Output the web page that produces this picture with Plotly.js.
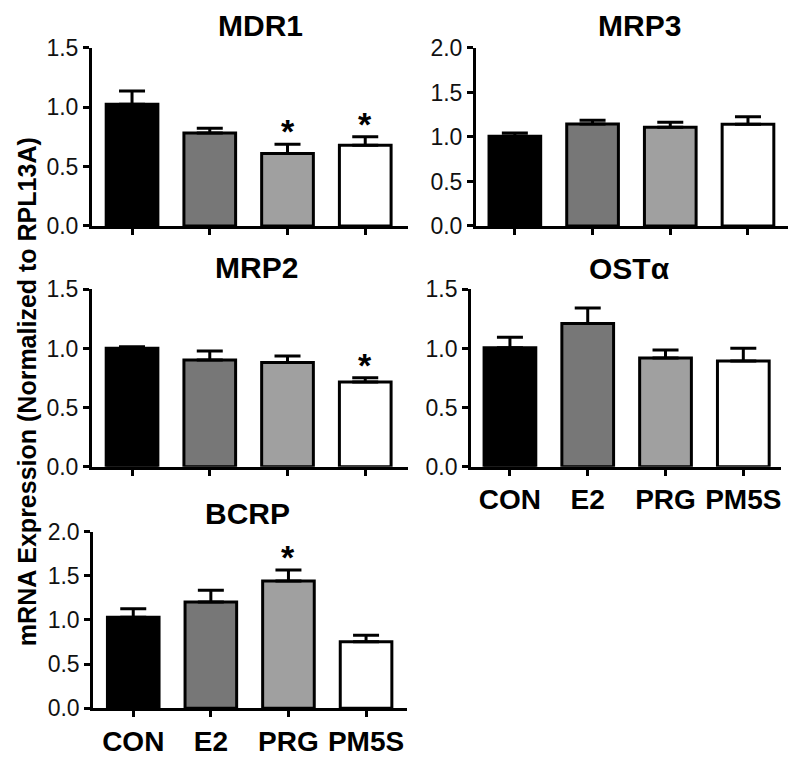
<!DOCTYPE html>
<html>
<head>
<meta charset="utf-8">
<script src="https://cdn.plot.ly/plotly-3.0.1.min.js"></script>
<style>html,body{margin:0;padding:0;background:#fff;}#chart{width:800px;height:764px;}</style>
</head>
<body>
<div id="chart"></div>
<script>
const categories = ['CON', 'E2', 'PRG', 'PM5S'];
const barColors = ['#000000', '#777777', '#a0a0a0', '#ffffff'];

const mdr1 = [1.025, 0.784, 0.61, 0.68];
const mdr1Err = [0.113, 0.04, 0.078, 0.073];
const mdr1Sig = [false, false, true, true];

const mrp3 = [1.007, 1.146, 1.109, 1.142];
const mrp3Err = [0.038, 0.041, 0.056, 0.086];
const mrp3Sig = [false, false, false, false];

const mrp2 = [1.001, 0.902, 0.882, 0.716];
const mrp2Err = [0.014, 0.076, 0.054, 0.037];
const mrp2Sig = [false, false, false, true];

const osta = [1.006, 1.212, 0.919, 0.894];
const ostaErr = [0.088, 0.13, 0.068, 0.107];
const ostaSig = [false, false, false, false];

const bcrp = [1.03, 1.204, 1.442, 0.755];
const bcrpErr = [0.098, 0.132, 0.124, 0.071];
const bcrpSig = [false, false, true, false];

const panels = [
  {name: 'MDR1', vals: mdr1, err: mdr1Err, sig: mdr1Sig, ymax: 1.5, xd: [0.115, 0.51], yd: [0.7042, 0.9372], xr: [-0.515, 3.55], labels: false, tx: 0.326, ty: 0.966},
  {name: 'MRP3', vals: mrp3, err: mrp3Err, sig: mrp3Sig, ymax: 2.0, xd: [0.595, 0.985], yd: [0.7042, 0.9372], xr: [-0.50, 3.515], labels: false, tx: 0.799, ty: 0.966},
  {name: 'MRP2', vals: mrp2, err: mrp2Err, sig: mrp2Sig, ymax: 1.5, xd: [0.115, 0.51], yd: [0.3891, 0.6213], xr: [-0.515, 3.55], labels: false, tx: 0.321, ty: 0.6505},
  {name: 'OSTα', vals: osta, err: ostaErr, sig: ostaSig, ymax: 1.5, xd: [0.5888, 0.9763], yd: [0.3891, 0.6213], xr: [-0.50, 3.485], labels: true, tx: 0.787, ty: 0.649},
  {name: 'BCRP', vals: bcrp, err: bcrpErr, sig: bcrpSig, ymax: 2.0, xd: [0.1166, 0.5084], yd: [0.0729, 0.3041], xr: [-0.515, 3.524], labels: true, tx: 0.309, ty: 0.3285}
];

const FONT = 'Liberation Sans, Arial, Helvetica, sans-serif';
const traces = [];
const layout = {
  width: 800, height: 764,
  margin: {l: 0, r: 0, t: 0, b: 0},
  paper_bgcolor: '#ffffff', plot_bgcolor: '#ffffff',
  showlegend: false,
  font: {family: FONT, color: '#000'},
  annotations: [],
  bargap: 0
};

panels.forEach((p, i) => {
  const n = i + 1;
  const xa = n === 1 ? 'x' : 'x' + n;
  const ya = n === 1 ? 'y' : 'y' + n;
  traces.push({
    type: 'bar',
    x: categories,
    y: p.vals,
    width: 0.665,
    xaxis: xa, yaxis: ya,
    marker: {color: barColors, line: {color: '#000', width: 3}},
    error_y: {type: 'data', symmetric: false, array: p.err, arrayminus: p.err.map(() => 0), color: '#000', thickness: 3, width: 13},
    hoverinfo: 'none'
  });
  layout['xaxis' + (n === 1 ? '' : n)] = {
    domain: p.xd, anchor: ya, type: 'category', range: p.xr,
    showline: true, linecolor: '#000', linewidth: 3,
    ticks: 'outside', ticklen: 6, tickwidth: 3, tickcolor: '#000',
    showgrid: false, zeroline: false,
    showticklabels: p.labels,
    tickfont: {family: FONT, size: 28, color: '#000', weight: 'bold'},
    fixedrange: true
  };
  layout['yaxis' + (n === 1 ? '' : n)] = {
    domain: p.yd, anchor: xa, range: [0, p.ymax],
    tickmode: 'linear', tick0: 0, dtick: 0.5, tickformat: '.1f',
    showline: true, linecolor: '#000', linewidth: 3,
    ticks: 'outside', ticklen: 6, tickwidth: 3, tickcolor: '#000',
    showgrid: false, zeroline: false,
    tickfont: {family: FONT, size: 23, color: '#111'},
    fixedrange: true
  };
  layout.annotations.push({
    text: p.name, xref: 'paper', yref: 'paper', x: p.tx, y: p.ty,
    xanchor: 'center', yanchor: 'middle', showarrow: false,
    font: {family: FONT, size: 30, color: '#000', weight: 'bold'}
  });
  p.sig.forEach((s, k) => {
    if (s) {
      layout.annotations.push({
        text: '*', xref: xa, yref: ya, x: categories[k], y: p.vals[k] + p.err[k],
        xanchor: 'center', yanchor: 'middle', yshift: 13, showarrow: false,
        font: {family: FONT, size: 34, color: '#000', weight: 'bold'}
      });
    }
  });
});

layout.annotations.push({
  text: 'mRNA Expression (Normalized to RPL13A)', xref: 'paper', yref: 'paper',
  x: 0.034, y: 0.487, xanchor: 'center', yanchor: 'middle', textangle: -90, showarrow: false,
  font: {family: FONT, size: 25, color: '#000', weight: 'bold'}
});

Plotly.newPlot('chart', traces, layout, {displayModeBar: false, staticPlot: true});
</script>
</body>
</html>
